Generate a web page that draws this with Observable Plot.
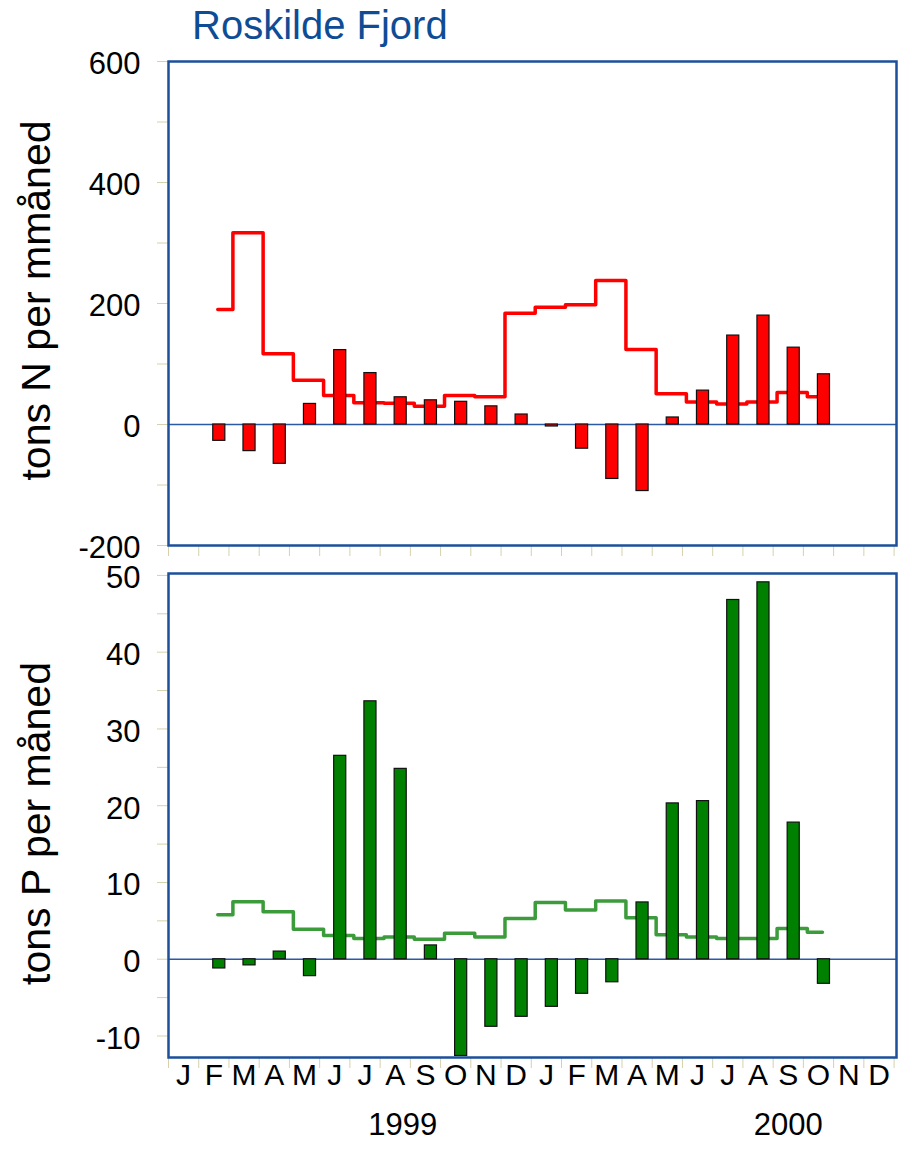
<!DOCTYPE html>
<html><head><meta charset="utf-8">
<script src="https://cdn.jsdelivr.net/npm/d3@7"></script>
<script src="https://cdn.jsdelivr.net/npm/@observablehq/plot@0.6"></script>
<style>
body{margin:0;background:#fff;}
#wrap{position:relative;width:899px;height:1150px;font-family:"Liberation Sans",Arial,sans-serif;overflow:hidden;}
#title{position:absolute;left:192px;top:5px;font-size:40px;line-height:40px;color:#0f4c96;z-index:2;white-space:nowrap;}
#top,#bot{position:absolute;left:0;}
#top{top:0;z-index:1}
#bot{top:560px}
</style></head><body>
<div id="wrap"><div id="top"></div><div id="bot"></div><div id="title">Roskilde Fjord</div></div>
<script>
// Month categories (Jan 1999 .. Dec 2000)
const months = ["J","F","M","A","M","J","J","A","S","O","N","D","J","F","M","A","M","J","J","A","S","O","N","D"];
const years = ["1999","2000"];
// Series start in Feb 1999 (month index 1) and run to Oct 2000
const firstMonth = 1;
// Nitrogen, tons N per month
const nBars = [-27, -44, -65, 34, 123, 85, 45, 40, 37.5, 30, 16.5, -3.3, -40, -90, -110, 11.6, 56, 147, 180, 127, 83];
const nLine = [190, 317, 117, 73, 48, 36, 35, 30, 48, 46, 184, 194, 198, 238, 124, 51, 37, 34, 37, 53, 46];
// Phosphorus, tons P per month
const pBars = [-1.2, -0.8, 1.0, -2.2, 26.5, 33.6, 24.8, 1.8, -12.6, -8.8, -7.5, -6.2, -4.5, -3.0, 7.4, 20.3, 20.6, 46.8, 49.1, 17.8, -3.2];
const pLine = [5.8, 7.5, 6.2, 3.9, 3.1, 2.7, 2.9, 2.6, 3.4, 2.9, 5.3, 7.4, 6.4, 7.6, 5.4, 3.2, 2.9, 2.7, 2.7, 4.0, 3.5];
// Tick labels
const nTicks = [-200, 0, 200, 400, 600];
const nMinor = [-200, -100, 0, 100, 200, 300, 400, 500, 600];
const pTicks = [-10, 0, 10, 20, 30, 40, 50];
const pMinor = [-10, -5, 0, 5, 10, 15, 20, 25, 30, 35, 40, 45, 50];
const monthEdges = d3.range(0, 25);

// layout constants
const yearAt = [7.75, 20.5];
const FONT = '"Liberation Sans", Arial, sans-serif';
const TICKC = "#d6d1ac";

function panel(o) {
  const bd = o.bars.map((v, k) => ({i: firstMonth + k, v}));
  const ld = o.line.map((v, k) => ({i: firstMonth + k, v}));
  const marks = [
    Plot.ruleY([0], {stroke: "#2a5aa6", strokeWidth: 1.3}),
    Plot.line(ld, {x: d => d.i + 0.63, y: "v", curve: "step", stroke: o.lineStroke, strokeWidth: 3.5}),
    Plot.rectY(bd, {x1: d => d.i + 0.48, x2: d => d.i + 0.88, y1: 0, y2: "v", fill: o.barFill, stroke: "#111", strokeWidth: 1.2}),
    Plot.frame({stroke: "#1d4f9b", strokeWidth: 2.5}),
    Plot.text(o.ticks, {y: d => d, frameAnchor: "left", dx: -28, dy: 3, textAnchor: "end", text: d => String(d), fontSize: 31, fill: "black"}),
    Plot.text([o.ylabel], {frameAnchor: "left", rotate: -90, dx: -132, dy: o.labelDy, textAnchor: "middle", lineAnchor: "middle", text: d => d, fontSize: 41, fill: "black"})
  ];
  if (o.bottomLabels) {
    marks.push(Plot.text(months, {x: (d, i) => i + 0.5, frameAnchor: "bottom", dy: 27, textAnchor: "middle", text: d => d, fontSize: 30, fill: "black"}));
    marks.push(Plot.text(years, {x: (d, i) => yearAt[i], frameAnchor: "bottom", dy: 77, textAnchor: "middle", text: d => d, fontSize: 31, fill: "black"}));
  }
  return Plot.plot({
    width: 899,
    height: o.height,
    marginLeft: 168,
    marginRight: 3,
    marginTop: o.marginTop,
    marginBottom: o.marginBottom,
    style: {fontFamily: FONT, color: TICKC, background: "transparent", overflow: "visible"},
    x: {type: "linear", domain: [0, 24.08], ticks: monthEdges, tickSize: 11, tickFormat: () => "", label: null},
    y: {type: "linear", domain: o.yDomain, ticks: o.minor, tickSize: 11, tickFormat: () => "", label: null},
    marks
  });
}

document.getElementById("top").appendChild(panel({
  bars: nBars, line: nLine, barFill: "#ff0000", lineStroke: "#ff0000",
  yDomain: [-200, 600], ticks: nTicks, minor: nMinor,
  ylabel: "tons N per mmåned", labelDy: -3,
  height: 575, marginTop: 61, marginBottom: 30, bottomLabels: false
}));
document.getElementById("bot").appendChild(panel({
  bars: pBars, line: pLine, barFill: "#008000", lineStroke: "#3c9c3c",
  yDomain: [-12.8, 50.25], ticks: pTicks, minor: pMinor,
  ylabel: "tons P per måned", labelDy: 8,
  height: 590, marginTop: 13, marginBottom: 93, bottomLabels: true
}));
</script>
</body></html>
